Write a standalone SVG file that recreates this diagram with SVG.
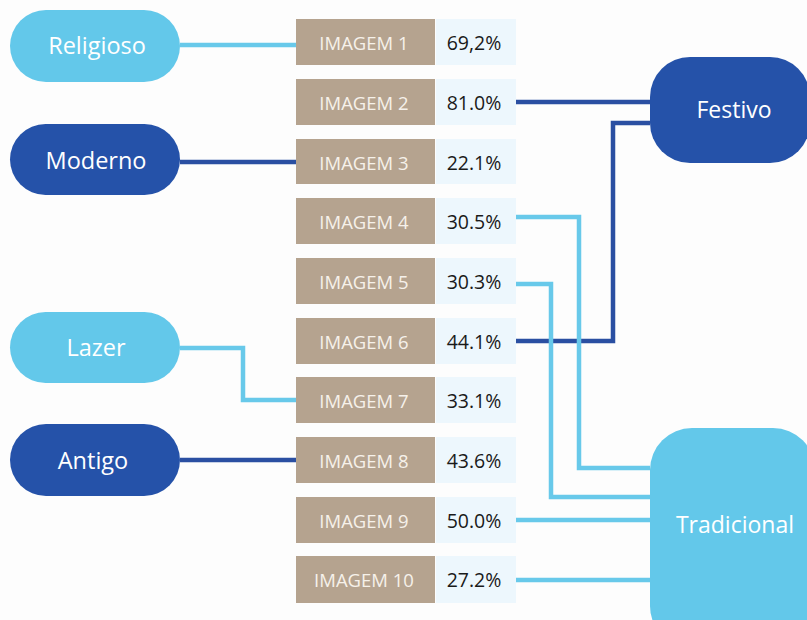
<svg xmlns="http://www.w3.org/2000/svg" width="807" height="620" viewBox="0 0 807 620">
<style>
.bg{fill:#fdfdfd}
.light{fill:#63c8ea}
.dark{fill:#2552a9}
.pilltxt{font-family:"Open Sans","Noto Sans",sans-serif;font-size:23.5px;fill:#ffffff;text-anchor:middle;dominant-baseline:central}
.big{font-size:23px}
.img{fill:#b5a38f}
.pct{fill:#edf7fd}
.imgtxt{font-family:"Open Sans","Noto Sans",sans-serif;font-size:18.5px;fill:#f6f1ea;text-anchor:middle;dominant-baseline:central}
.pcttxt{font-family:"Open Sans","Noto Sans",sans-serif;font-size:19.5px;fill:#1a1a1a;text-anchor:middle;dominant-baseline:central}
.cl{fill:none;stroke:#68c9ea;stroke-width:4.5}
.cd{fill:none;stroke:#2a4fa2;stroke-width:4.5}
</style>
<rect class="bg" x="0" y="0" width="807" height="620"/>
<g id="connectors">
<path class="cl" d="M180 45H296"/>
<path class="cd" d="M180 162H296"/>
<path class="cl" d="M180 348H243V400H296"/>
<path class="cd" d="M180 460H296"/>
<path class="cd" d="M516 102H650"/>
<path class="cd" d="M650 123H613V341H516"/>
<path class="cl" d="M516 217H579V468H650"/>
<path class="cl" d="M516 284H551V497H650"/>
<path class="cl" d="M516 520H650"/>
<path class="cl" d="M516 580H650"/>
</g>
<g id="religioso"><rect class="light" x="10" y="10" width="170" height="72" rx="36"/><text class="pilltxt" x="97" y="45">Religioso</text></g>
<g id="moderno"><rect class="dark" x="10" y="124" width="170" height="71" rx="35.5"/><text class="pilltxt" x="96" y="160">Moderno</text></g>
<g id="lazer"><rect class="light" x="10" y="312" width="170" height="71" rx="35.5"/><text class="pilltxt" x="96" y="347">Lazer</text></g>
<g id="antigo"><rect class="dark" x="10" y="424" width="170" height="72" rx="36"/><text class="pilltxt" x="93" y="460">Antigo</text></g>
<g id="festivo"><rect class="dark" x="650" y="57" width="160" height="106" rx="40"/><text class="pilltxt big" x="734" y="109">Festivo</text></g>
<g id="tradicional"><rect class="light" x="650" y="428" width="165" height="220" rx="42"/><text class="pilltxt big" x="735" y="524">Tradicional</text></g>
<g id="img1"><rect class="img" x="296" y="19" width="139" height="46"/><rect class="pct" x="436" y="19" width="80" height="46"/><text class="imgtxt" x="364" y="42">IMAGEM 1</text><text class="pcttxt" x="474" y="42">69,2%</text></g>
<g id="img2"><rect class="img" x="296" y="79" width="139" height="46"/><rect class="pct" x="436" y="79" width="80" height="46"/><text class="imgtxt" x="364" y="102">IMAGEM 2</text><text class="pcttxt" x="474" y="102">81.0%</text></g>
<g id="img3"><rect class="img" x="296" y="139" width="139" height="45"/><rect class="pct" x="436" y="139" width="80" height="45"/><text class="imgtxt" x="364" y="162">IMAGEM 3</text><text class="pcttxt" x="474" y="162">22.1%</text></g>
<g id="img4"><rect class="img" x="296" y="198" width="139" height="46"/><rect class="pct" x="436" y="198" width="80" height="46"/><text class="imgtxt" x="364" y="221">IMAGEM 4</text><text class="pcttxt" x="474" y="221">30.5%</text></g>
<g id="img5"><rect class="img" x="296" y="258" width="139" height="46"/><rect class="pct" x="436" y="258" width="80" height="46"/><text class="imgtxt" x="364" y="281">IMAGEM 5</text><text class="pcttxt" x="474" y="281">30.3%</text></g>
<g id="img6"><rect class="img" x="296" y="318" width="139" height="46"/><rect class="pct" x="436" y="318" width="80" height="46"/><text class="imgtxt" x="364" y="341">IMAGEM 6</text><text class="pcttxt" x="474" y="341">44.1%</text></g>
<g id="img7"><rect class="img" x="296" y="377" width="139" height="46"/><rect class="pct" x="436" y="377" width="80" height="46"/><text class="imgtxt" x="364" y="400">IMAGEM 7</text><text class="pcttxt" x="474" y="400">33.1%</text></g>
<g id="img8"><rect class="img" x="296" y="437" width="139" height="46"/><rect class="pct" x="436" y="437" width="80" height="46"/><text class="imgtxt" x="364" y="460">IMAGEM 8</text><text class="pcttxt" x="474" y="460">43.6%</text></g>
<g id="img9"><rect class="img" x="296" y="497" width="139" height="46"/><rect class="pct" x="436" y="497" width="80" height="46"/><text class="imgtxt" x="364" y="520">IMAGEM 9</text><text class="pcttxt" x="474" y="520">50.0%</text></g>
<g id="img10"><rect class="img" x="296" y="556" width="139" height="47"/><rect class="pct" x="436" y="556" width="80" height="47"/><text class="imgtxt" x="364" y="579">IMAGEM 10</text><text class="pcttxt" x="474" y="579">27.2%</text></g>
</svg>
